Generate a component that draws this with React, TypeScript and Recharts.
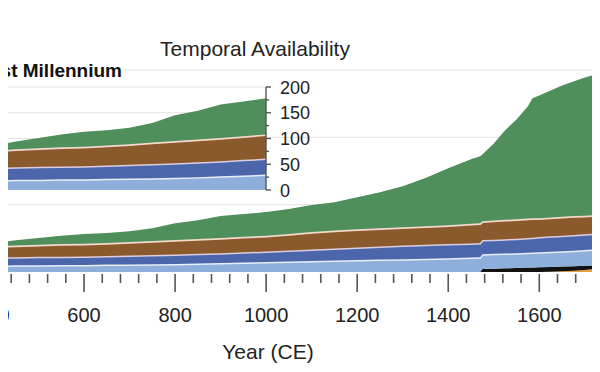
import React from 'react';
import { AreaChart, Area, XAxis, YAxis, CartesianGrid } from 'recharts';

// proxy record counts per archive type, stacked bottom to top
const years = [
  400, 450, 500, 550, 600, 650, 700, 750, 800, 850, 900, 950, 1000, 1050, 1100, 1150, 1200, 1250,
  1300, 1350, 1400, 1450, 1470, 1475, 1500, 1525, 1550, 1575, 1585, 1600, 1625, 1650, 1675, 1700,
  1725, 1740,
];
const orange = [
  0, 0, 0, 0, 0, 0, 0, 0, 0, 0, 0, 0, 0, 0, 0, 0, 0, 0, 0, 0, 0, 0, 0, 0, 0, 0, 0, 0, 0, 0, 1, 2,
  4, 6, 9, 11,
];
const black = [
  0, 0, 0, 0, 0, 0, 0, 0, 0, 0, 0, 0, 0, 0, 0, 0, 0, 0, 0, 0, 0, 0, 0, 9, 10, 11, 12, 13, 13.5, 14,
  14, 14, 13, 12.5, 11, 10,
];
const lightBlue = [
  19, 20, 20, 21, 21, 22, 22.5, 23, 24, 25, 26.5, 28, 30, 31.5, 33, 34.5, 36, 37, 38, 39, 41, 43,
  44, 44, 44, 44, 44, 44, 44.5, 45, 45, 45.5, 46, 46.5, 48, 50,
];
const blue = [
  24, 24, 25, 24.5, 25, 25.5, 26.5, 27.5, 28, 29, 29.5, 30.5, 31, 32.5, 34, 35.5, 37, 39, 41, 42,
  42, 42, 42, 42, 42, 42.5, 43, 44, 44, 45, 46, 46.5, 47, 47, 47, 47,
];
const brown = [
  33, 35, 36, 37.5, 38, 39, 40, 41.5, 43, 44, 45, 46, 47, 49, 52, 53, 54, 54, 54, 55, 56, 58, 59,
  56, 57, 57.5, 58, 58, 57.5, 56, 56, 56, 56, 55, 54, 53,
];
const green = [
  10, 15, 20, 25, 29, 29.5, 32, 38, 50, 56, 65, 67.5, 70, 74, 80, 84, 95, 107, 122, 143, 169, 192,
  199, 198, 229, 266, 296, 333, 356.5, 364, 377, 390, 400, 411, 418, 419,
];

const yearTicks = [
  400, 440, 480, 520, 560, 600, 640, 680, 720, 760, 800, 840, 880, 920, 960, 1000, 1040, 1080,
  1120, 1160, 1200, 1240, 1280, 1320, 1360, 1400, 1440, 1480, 1520, 1560, 1600, 1640, 1680, 1720,
];
const yearLabels = [400, 600, 800, 1000, 1200, 1400, 1600];
const insetTicks = [0, 25, 50, 75, 100, 125, 150, 175, 200];
const insetLabels = [0, 50, 100, 150, 200];

const data = years.map((year, i) => ({
  year,
  orange: orange[i],
  black: black[i],
  lightBlue: lightBlue[i],
  blue: blue[i],
  brown: brown[i],
  green: green[i],
}));
const insetData = data.filter((d) => d.year <= 1000);

const FONT = '"Liberation Sans", Arial, Helvetica, sans-serif';
const TICK = '#555';
const GRID = '#e3e3e3';

const YearTick = (props: any) => {
  const { x, y, payload } = props;
  const major = yearLabels.includes(payload.value);
  return (
    <g>
      <line x1={x} x2={x} y1={y + 2} y2={y + (major ? 20 : 11)} stroke={TICK} strokeWidth={1.6} />
      {major && (
        <text x={x} y={y + 50} textAnchor="middle" fontSize={20} fill="#222" fontFamily={FONT}>
          {payload.value}
        </text>
      )}
    </g>
  );
};

const InsetTick = (props: any) => {
  const { x, y, payload } = props;
  const major = insetLabels.includes(payload.value);
  return (
    <g>
      <line x1={x} x2={x + (major ? 5 : 3)} y1={y} y2={y} stroke={TICK} strokeWidth={1.4} />
      {major && (
        <text x={x + 14} y={y + 6.5} fontSize={18} fill="#222" fontFamily={FONT}>
          {payload.value}
        </text>
      )}
    </g>
  );
};

const layers = (prefix: string) => [
  <Area key={prefix + 'o'} type="linear" dataKey="orange" stackId="s" fill="#e9a13b" fillOpacity={1} stroke="none" isAnimationActive={false} dot={false} activeDot={false} />,
  <Area key={prefix + 'k'} type="linear" dataKey="black" stackId="s" fill="#111111" fillOpacity={1} stroke="none" isAnimationActive={false} dot={false} activeDot={false} />,
  <Area key={prefix + 'l'} type="linear" dataKey="lightBlue" stackId="s" fill="#8eafdc" fillOpacity={1} stroke="#e8eff9" strokeWidth={3} isAnimationActive={false} dot={false} activeDot={false} />,
  <Area key={prefix + 'b'} type="linear" dataKey="blue" stackId="s" fill="#4b66ab" fillOpacity={1} stroke="#ddcfe0" strokeWidth={3} isAnimationActive={false} dot={false} activeDot={false} />,
  <Area key={prefix + 'r'} type="linear" dataKey="brown" stackId="s" fill="#8b5a2c" fillOpacity={1} stroke="#f3dacd" strokeWidth={3.5} isAnimationActive={false} dot={false} activeDot={false} />,
  <Area key={prefix + 'g'} type="linear" dataKey="green" stackId="s" fill="#4f8f5c" fillOpacity={1} stroke="none" isAnimationActive={false} dot={false} activeDot={false} />,
];

export default function App() {
  return (
    <div
      style={{
        position: 'relative',
        width: 600,
        height: 372,
        overflow: 'hidden',
        background: '#fff',
        fontFamily: FONT,
        margin: -8,
      }}
    >
      <div style={{ position: 'absolute', left: -7, top: 0 }}>
        <AreaChart width={610} height={372} data={data} margin={{ top: 70, right: 0, bottom: 0, left: 0 }}>
          <CartesianGrid vertical={false} stroke={GRID} horizontalValues={[200, 400, 600]} />
          <XAxis
            dataKey="year"
            type="number"
            domain={[400, 1740]}
            ticks={yearTicks}
            interval={0}
            height={100}
            tickSize={0}
            tickMargin={0}
            axisLine={false}
            tickLine={false}
            tick={<YearTick />}
          />
          <YAxis hide domain={[0, 600]} />
          {layers('m')}
        </AreaChart>
      </div>

      <div style={{ position: 'absolute', left: 0, top: 80, width: 266, height: 113, background: '#fff' }} />

      <div style={{ position: 'absolute', left: -7, top: 70 }}>
        <AreaChart width={333} height={135} data={insetData} margin={{ top: 17, right: 0, bottom: 15, left: 0 }}>
          <CartesianGrid vertical={false} stroke={GRID} horizontalValues={[50, 100, 150, 200]} />
          <XAxis dataKey="year" type="number" domain={[400, 1000]} hide />
          <YAxis
            orientation="right"
            domain={[0, 200]}
            ticks={insetTicks}
            interval={0}
            width={60}
            tickSize={0}
            tickMargin={0}
            tickLine={false}
            axisLine={{ stroke: TICK, strokeWidth: 1.4 }}
            tick={<InsetTick />}
          />
          {layers('i')}
        </AreaChart>
      </div>

      <svg width={600} height={372} style={{ position: 'absolute', left: 0, top: 0, pointerEvents: 'none' }}>
        <rect x={0} y={60} width={125} height={21} fill="#fff" />
        <text x={122} y={77} textAnchor="end" fontSize={19} fontWeight="bold" fill="#111" fontFamily={FONT}>
          First Millennium
        </text>
        <text x={255} y={56} textAnchor="middle" fontSize={21} fill="#222" fontFamily={FONT}>
          Temporal Availability
        </text>
        <text x={268} y={359} textAnchor="middle" fontSize={21} fill="#222" fontFamily={FONT}>
          Year (CE)
        </text>
      </svg>
    </div>
  );
}
